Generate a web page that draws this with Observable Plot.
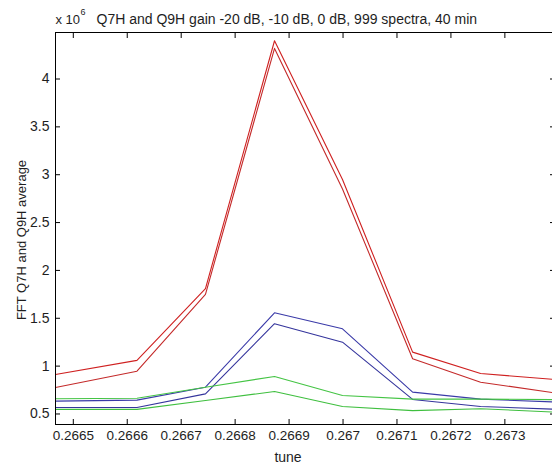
<!DOCTYPE html>
<html>
<head>
<meta charset="utf-8">
<script src="https://cdn.jsdelivr.net/npm/d3@7"></script>
<script src="https://cdn.jsdelivr.net/npm/@observablehq/plot@0.6"></script>
<style>
  html, body { margin: 0; padding: 0; background: #fff; overflow: hidden; }
  svg { display: block; }
</style>
</head>
<body>
<div id="chart"></div>
<script>
// ---- data ----
const tune = [0.266467, 0.266618, 0.266745, 0.266873, 0.266999, 0.267129, 0.267255, 0.267392];

const redUpper   = [0.913, 1.060, 1.810, 4.400, 2.950, 1.146, 0.923, 0.860];
const redLower   = [0.777, 0.947, 1.750, 4.320, 2.850, 1.077, 0.832, 0.720];
const blueUpper  = [0.634, 0.645, 0.780, 1.557, 1.390, 0.728, 0.655, 0.625];
const blueLower  = [0.567, 0.567, 0.710, 1.443, 1.250, 0.652, 0.578, 0.550];
const greenUpper = [0.659, 0.665, 0.780, 0.892, 0.693, 0.655, 0.655, 0.650];
const greenLower = [0.548, 0.548, 0.640, 0.735, 0.578, 0.535, 0.555, 0.520];

const seriesNames  = ["Q7H 0 dB", "Q9H 0 dB", "Q7H -10 dB", "Q9H -10 dB", "Q7H -20 dB", "Q9H -20 dB"];
const seriesValues = [redUpper, redLower, blueUpper, blueLower, greenUpper, greenLower];
const seriesColors = ["#cf2020", "#c42a2a", "#3a3aa8", "#34349c", "#44c444", "#3fbf3f"];

const xTicks      = [0.2665, 0.2666, 0.2667, 0.2668, 0.2669, 0.2670, 0.2671, 0.2672, 0.2673];
const xTickLabels = ["0.2665", "0.2666", "0.2667", "0.2668", "0.2669", "0.267", "0.2671", "0.2672", "0.2673"];
const yTicks      = [0.5, 1, 1.5, 2, 2.5, 3, 3.5, 4];
const yTickLabels = ["0.5", "1", "1.5", "2", "2.5", "3", "3.5", "4"];

const titleText  = "Q7H and Q9H gain -20 dB, -10 dB, 0 dB, 999 spectra, 40 min";
const xLabelText = "tune";
const yLabelText = "FFT Q7H and Q9H average";

// ---- build long table ----
const rows = [];
seriesNames.forEach((name, s) => {
  tune.forEach((t, i) => rows.push({series: name, tune: t, value: seriesValues[s][i]}));
});

const font = "'Liberation Sans', Arial, Helvetica, sans-serif";
const ink = "#1e1e1e";

const chart = Plot.plot({
  width: 552,
  height: 468,
  marginLeft: 55,
  marginRight: -2,
  marginTop: 32,
  marginBottom: 44,
  style: {fontFamily: font, fontSize: "13.5px", color: ink, background: "#fff", overflow: "hidden"},
  x: {domain: [tune[0], tune[tune.length - 1]]},
  y: {domain: [0.39, 4.486]},
  color: {domain: seriesNames, range: seriesColors},
  marks: [
    Plot.line(rows, {x: "tune", y: "value", z: "series", stroke: "series", strokeWidth: 1.1}),
    Plot.frame({stroke: "#000", strokeWidth: 1}),
    Plot.axisX({anchor: "bottom", ticks: xTicks, tickSize: -5, tickPadding: 11,
      tickFormat: (d, i) => xTickLabels[i], label: null, stroke: "#000"}),
    Plot.axisX({anchor: "top", ticks: xTicks, tickSize: -5, tickFormat: () => "", label: null, stroke: "#000"}),
    Plot.axisY({anchor: "left", ticks: yTicks, tickSize: -5, tickPadding: 11,
      tickFormat: (d, i) => yTickLabels[i], label: null, stroke: "#000", fontSize: 14}),
    Plot.axisY({anchor: "right", ticks: yTicks, tickSize: -5, tickFormat: () => "", label: null, stroke: "#000"}),
    Plot.text([xLabelText], {frameAnchor: "bottom", dx: -17, dy: 37, lineAnchor: "bottom", fontSize: 14, fill: ink}),
    Plot.text(["x 10"], {frameAnchor: "top-left", textAnchor: "start", dx: 0, dy: -9, lineAnchor: "bottom", fontSize: 13, fill: ink}),
    Plot.text(["6"], {frameAnchor: "top-left", textAnchor: "start", dx: 25, dy: -18, lineAnchor: "bottom", fontSize: 9, fill: ink}),
    Plot.text([titleText], {frameAnchor: "top-left", textAnchor: "start", dx: 41, dy: -9, lineAnchor: "bottom", fontSize: 14, fill: ink})
  ]
});

// rotated y-axis label
d3.select(chart).append("text")
  .attr("transform", "translate(21,240) rotate(-90)")
  .attr("text-anchor", "middle")
  .attr("dominant-baseline", "central")
  .attr("font-family", font)
  .attr("font-size", 13)
  .attr("fill", ink)
  .text(yLabelText);

document.getElementById("chart").appendChild(chart);
</script>
</body>
</html>
